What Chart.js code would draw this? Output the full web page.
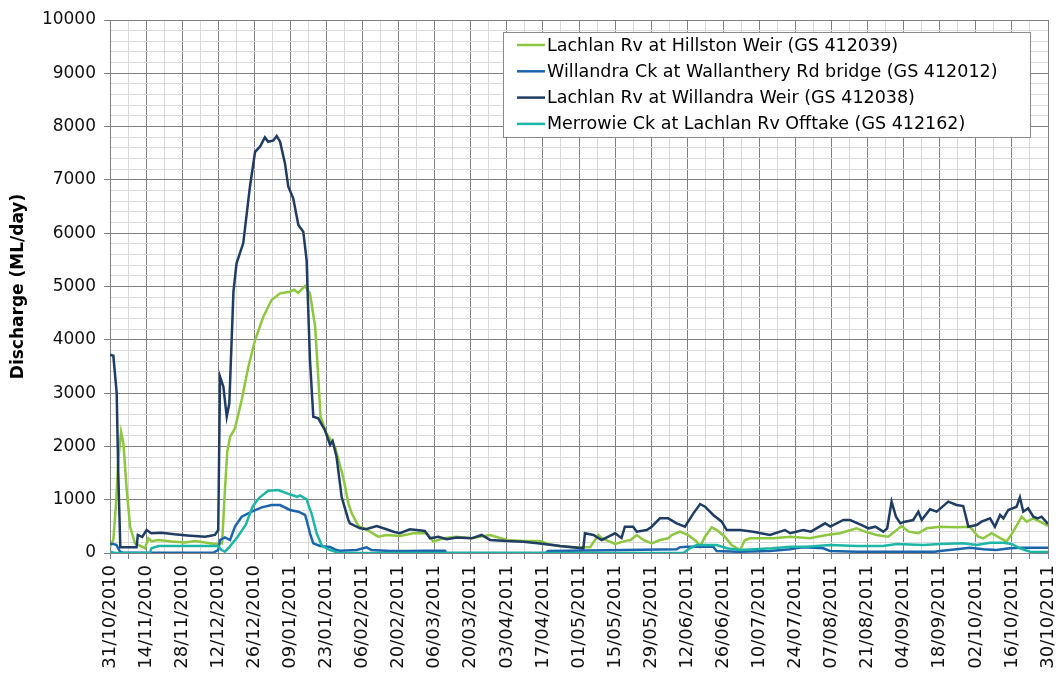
<!DOCTYPE html>
<html>
<head>
<meta charset="utf-8">
<script src="https://cdn.jsdelivr.net/npm/chart.js@4.4.1/dist/chart.umd.min.js"></script>
<style>
  html, body { margin: 0; background: #fff; }
</style>
</head>
<body>
<canvas id="chart" width="1059" height="674"></canvas>
<script>
// x values are days since 31/10/2010
const dateLabels = [
  "31/10/2010", "14/11/2010", "28/11/2010", "12/12/2010", "26/12/2010", "09/01/2011",
  "23/01/2011", "06/02/2011", "20/02/2011", "06/03/2011", "20/03/2011", "03/04/2011",
  "17/04/2011", "01/05/2011", "15/05/2011", "29/05/2011", "12/06/2011", "26/06/2011",
  "10/07/2011", "24/07/2011", "07/08/2011", "21/08/2011", "04/09/2011", "18/09/2011",
  "02/10/2011", "16/10/2011", "30/10/2011"
];

const seriesNames = [
  "Lachlan Rv at Hillston Weir (GS 412039)",
  "Willandra Ck at Wallanthery Rd bridge (GS 412012)",
  "Lachlan Rv at Willandra Weir (GS 412038)",
  "Merrowie Ck at Lachlan Rv Offtake (GS 412162)"
];

const hillstonDays = [0, 1.3, 2.3, 3.3, 4.3, 5.2, 6.4, 7.8, 9.7, 13.6, 14.9, 16.1, 18.8, 23.9, 29.1, 33, 36.9, 40.7, 43.5, 44.5, 45.5, 46.6, 48.5, 51.1, 53.7, 56.3, 59.5, 62.7, 66, 69.8, 71.5, 73, 75.7, 77.6, 79.6, 80.8, 81.7, 84, 87.3, 90.5, 92.5, 93.8, 96.4, 100.9, 104.1, 107.4, 112.5, 117.7, 122.9, 125.5, 129.4, 134.5, 140.3, 147.5, 153.9, 160.4, 166.9, 170, 174.6, 179.8, 186.3, 189.5, 191, 196, 200.5, 202, 204.4, 207, 210.2, 213.4, 216.6, 218, 221.2, 224.4, 227.7, 229, 230.9, 233.5, 235.5, 238.6, 241.2, 244.5, 246.4, 248.5, 257.4, 264, 271.6, 278.1, 283.3, 289.7, 293, 297.5, 302, 307.2, 310, 313.7, 316.9, 322.1, 328.5, 333.7, 337, 338.9, 342.1, 347.9, 350.5, 353.8, 355.7, 358.3, 362.2, 364];
const hillstonFlow = [120, 250, 900, 1800, 2270, 2060, 1240, 490, 180, 90, 275, 220, 245, 215, 195, 225, 195, 170, 180, 1100, 1900, 2180, 2340, 2870, 3495, 3996, 4433, 4746, 4872, 4902, 4940, 4880, 5009, 4872, 4245, 3308, 2557, 2245, 1994, 1420, 932, 744, 507, 400, 306, 338, 320, 370, 370, 213, 275, 306, 275, 338, 244, 225, 225, 169, 131, 106, 106, 338, 275, 169, 232, 244, 338, 244, 181, 244, 275, 338, 400, 338, 213, 119, 306, 482, 431, 306, 150, 56, 244, 275, 275, 306, 275, 338, 370, 463, 400, 338, 306, 507, 400, 370, 463, 494, 482, 494, 306, 275, 370, 213, 400, 681, 588, 651, 557, 507];

const wallantheryDays = [0, 1.3, 2.5, 3.9, 5, 40, 42, 42.7, 44.6, 46.6, 48.5, 51.1, 55, 58.9, 62.7, 66, 69.8, 73.1, 75.7, 76.3, 77.6, 78.9, 81.5, 85.4, 87.9, 89.2, 95.7, 99.6, 101.5, 108.7, 115, 122, 130, 130.5, 169, 170, 200, 219.9, 221, 223.7, 234.1, 235.4, 244, 256, 263.9, 266, 269, 276.8, 279.4, 290, 320, 322, 328.5, 333.7, 338.9, 344, 349.2, 354, 364];
const wallantheryFlow = [170, 170, 150, 25, 5, 5, 56, 244, 294, 244, 494, 681, 775, 857, 900, 900, 807, 775, 713, 619, 370, 181, 131, 112, 56, 44, 56, 106, 56, 37, 37, 44, 44, 0, 0, 37, 56, 69, 106, 119, 119, 37, 25, 37, 69, 88, 106, 88, 37, 25, 25, 37, 69, 100, 69, 56, 88, 100, 100];

const willandraDays = [0, 1.3, 2.6, 3.2, 4, 10.3, 10.8, 12.5, 14.2, 16, 20, 25, 30, 36.9, 40.7, 42, 42.7, 44, 45.3, 46.3, 47.9, 49.1, 51.7, 54.3, 56.3, 58.2, 60.1, 61.4, 63.4, 64.7, 66, 67.9, 69.2, 71.1, 73.1, 75, 76.3, 76.8, 77.6, 78.9, 80.8, 83.4, 85.4, 86.4, 87.9, 89.9, 92.5, 93.1, 97, 99.6, 103.5, 107, 110, 112.5, 116.4, 122.2, 124.2, 127.4, 130.7, 134.5, 140.3, 144.2, 147.5, 153.9, 160.4, 166.9, 174.6, 183.7, 184.3, 187.6, 190.8, 193.4, 196, 198.5, 199.8, 203, 204.4, 208.3, 210.2, 213.4, 216.6, 219.9, 223.1, 226.4, 229, 230.9, 234.1, 237.4, 239.3, 244.5, 249.6, 256.1, 261.9, 264, 269, 272, 277.5, 279.5, 284.6, 287.2, 291.7, 294.4, 297, 300.1, 301.6, 303.3, 305, 306.7, 308.5, 311.7, 313.7, 315, 318.2, 320.8, 325.3, 328.5, 331.1, 333.1, 336.3, 338.2, 341.5, 343.4, 345.4, 346.7, 348.6, 351.8, 353.1, 354.4, 356.3, 358.3, 360, 361.5, 364];
const willandraFlow = [3720, 3700, 3000, 1500, 110, 107, 338, 300, 431, 370, 380, 350, 330, 306, 338, 431, 3308, 3120, 2557, 2808, 4900, 5435, 5810, 6872, 7528, 7622, 7798, 7716, 7741, 7823, 7716, 7310, 6872, 6654, 6153, 6028, 5497, 4746, 3621, 2557, 2527, 2307, 2026, 2100, 1807, 1050, 620, 557, 463, 450, 507, 450, 400, 370, 444, 413, 275, 306, 257, 290, 275, 338, 245, 225, 213, 180, 131, 88, 370, 338, 244, 306, 370, 281, 494, 494, 400, 431, 494, 651, 651, 557, 494, 744, 919, 869, 713, 588, 431, 431, 400, 338, 431, 370, 431, 400, 557, 494, 619, 619, 525, 463, 494, 400, 463, 963, 681, 557, 588, 619, 775, 619, 819, 775, 963, 900, 881, 494, 525, 588, 651, 494, 713, 650, 807, 869, 1045, 775, 838, 681, 651, 681, 544];

const merrowieDays = [0, 2, 15.5, 16.1, 18.8, 42, 43.3, 44.6, 46.6, 49.5, 52.7, 55.3, 58, 61.4, 65.3, 69.2, 71.8, 72.6, 73.7, 76.3, 77.2, 78.2, 80.2, 82.1, 82.8, 85.4, 87, 88.5, 222.5, 225, 227.7, 235.4, 239.3, 244.5, 257, 263.9, 270.3, 279.4, 289.7, 300, 305.2, 315.6, 322, 331.1, 336.3, 341.5, 346.7, 349.9, 353.1, 357, 364];
const merrowieFlow = [25, 0, 0, 88, 131, 131, 56, 25, 130, 300, 530, 869, 1040, 1169, 1180, 1110, 1070, 1050, 1080, 1007, 869, 744, 370, 150, 119, 56, 30, 0, 0, 88, 150, 150, 88, 56, 88, 119, 119, 150, 131, 131, 169, 150, 169, 181, 150, 194, 194, 169, 88, 25, 20];

const seriesColors = ["#8dc63f", "#1b65ad", "#1f3d63", "#1cb6a6"];

const toPoints = (days, flow) => days.map((d, i) => ({ x: d, y: flow[i] }));

const seriesData = [
  toPoints(hillstonDays, hillstonFlow),
  toPoints(wallantheryDays, wallantheryFlow),
  toPoints(willandraDays, willandraFlow),
  toPoints(merrowieDays, merrowieFlow)
];

const FONT = '"DejaVu Sans", Verdana, sans-serif';

// boxed legend sitting inside the plot, like the Excel original
const boxLegend = {
  id: "boxLegend",
  afterDraw(chart) {
    const ctx = chart.ctx;
    const x = 503, y = 32, w = 527, h = 105;
    ctx.save();
    ctx.fillStyle = "#ffffff";
    ctx.fillRect(x, y, w, h);
    ctx.strokeStyle = "#8a8a8a";
    ctx.lineWidth = 1;
    ctx.strokeRect(x + 0.5, y + 0.5, w, h);
    ctx.font = `17.5px ${FONT}`;
    ctx.textBaseline = "middle";
    chart.data.datasets.forEach((ds, i) => {
      const rowY = y + 13 + i * 26.3;
      ctx.strokeStyle = ds.borderColor;
      ctx.lineWidth = 2.5;
      ctx.beginPath();
      ctx.moveTo(x + 14, rowY);
      ctx.lineTo(x + 42, rowY);
      ctx.stroke();
      ctx.fillStyle = "#000";
      ctx.fillText(ds.label, x + 44, rowY + 1);
    });
    ctx.restore();
  }
};

new Chart(document.getElementById("chart"), {
  type: "line",
  data: {
    datasets: seriesData.map((pts, i) => ({
      label: seriesNames[i],
      data: pts,
      borderColor: seriesColors[i],
      backgroundColor: seriesColors[i],
      borderWidth: 2.5,
      pointRadius: 0,
      tension: 0,
      fill: false,
      order: 4 - i
    }))
  },
  options: {
    responsive: false,
    animation: false,
    devicePixelRatio: 1,
    layout: { padding: { top: 20, right: 11, left: 0, bottom: 0 } },
    plugins: {
      legend: { display: false },
      tooltip: { enabled: false }
    },
    scales: {
      x: {
        type: "linear",
        min: 0,
        max: 364,
        afterFit: (scale) => {
          scale.height = 121;
          scale.paddingLeft = 0;
          scale.paddingRight = 0;
        },
        afterBuildTicks: (scale) => {
          const ticks = [];
          for (let d = 0; d <= 364; d += 7) ticks.push({ value: d });
          scale.ticks = ticks;
        },
        ticks: {
          autoSkip: false,
          maxRotation: 90,
          minRotation: 90,
          padding: 6,
          color: "#111",
          font: { family: FONT, size: 18 },
          callback: (v) => (v % 14 === 0 ? dateLabels[v / 14] : "")
        },
        grid: {
          color: (ctx) => (ctx.tick && ctx.tick.value % 14 === 0 ? "#808080" : "#d9d9d9"),
          tickColor: "#808080",
          tickLength: 6
        },
        border: { color: "#808080", width: 1 }
      },
      y: {
        min: 0,
        max: 10000,
        afterFit: (scale) => { scale.width = 110; },
        ticks: {
          stepSize: 200,
          autoSkip: false,
          padding: 8,
          color: "#111",
          font: { family: FONT, size: 17 },
          callback: (v) => (v % 1000 === 0 ? v : "")
        },
        grid: {
          color: (ctx) => (ctx.tick && ctx.tick.value % 1000 === 0 ? "#808080" : "#d9d9d9"),
          tickColor: (ctx) => (ctx.tick && ctx.tick.value % 1000 === 0 ? "#808080" : "rgba(0,0,0,0)"),
          tickLength: 6
        },
        border: { color: "#808080", width: 1 },
        title: {
          display: true,
          text: "Discharge (ML/day)",
          color: "#000",
          font: { family: FONT, size: 17, weight: "bold" },
          padding: { top: 8, bottom: 0 }
        }
      }
    }
  },
  plugins: [boxLegend]
});
</script>
</body>
</html>
